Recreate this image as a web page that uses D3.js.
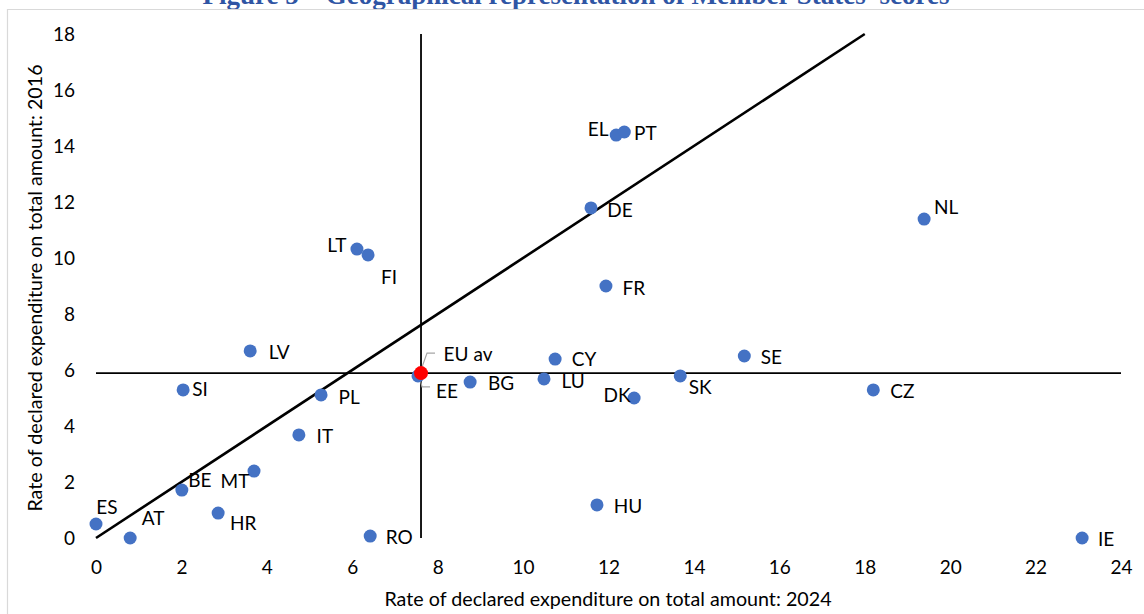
<!DOCTYPE html>
<html>
<head>
<meta charset="utf-8">
<script src="https://cdn.jsdelivr.net/npm/d3@7"></script>
<style>
  html, body { margin: 0; padding: 0; background: #fff; }
  svg { display: block; }
  text { font-family: Lato, "Open Sans", sans-serif; }
</style>
</head>
<body>
<svg id="chart" width="1144" height="614"></svg>
<script>
// Member State codes and their rates (x: 2024, y: 2016)
const countries = ["ES","AT","BE","MT","HR","RO","SI","LV","PL","IT","LT","FI","EE",
  "BG","CY","LU","EL","PT","DE","FR","HU","DK","SK","SE","CZ","NL","IE"];
const rate2024 = [0.0, 0.8, 2.01, 3.7, 2.86, 6.42, 2.04, 3.61, 5.27, 4.75, 6.11, 6.37, 7.54,
  8.76, 10.75, 10.49, 12.18, 12.37, 11.59, 11.94, 11.73, 12.6, 13.68, 15.18, 18.2, 19.39, 23.09];
const rate2016 = [0.5, 0.0, 1.71, 2.39, 0.89, 0.07, 5.29, 6.68, 5.11, 3.68, 10.32, 10.11, 5.79,
  5.57, 6.39, 5.68, 14.39, 14.5, 11.79, 9.0, 1.18, 5.0, 5.79, 6.5, 5.29, 11.39, 0.0];

// EU average
const euLabel = "EU av";
const euAvg2024 = 7.61;
const euAvg2016 = 5.89;

// Diagonal reference (equal rates in both years)
const diagonal = [[0, 0], [18, 18]];

const xTicks = [0, 2, 4, 6, 8, 10, 12, 14, 16, 18, 20, 22, 24];
const yTicks = [0, 2, 4, 6, 8, 10, 12, 14, 16, 18];

const titleText = "Figure 5 \u2013 Geographical representation of Member States\u2019 scores";
const xTitle = "Rate of declared expenditure on total amount: 2024";
const yTitle = "Rate of declared expenditure on total amount: 2016";

// label placement (centre offset from marker, px)
const labelOffsets = {
  ES:[11,-17], AT:[23,-20], BE:[18,-10], MT:[-19,10], HR:[25,10], RO:[29,1],
  SI:[17,-1], LV:[29,1], PL:[28,2], IT:[26,1], LT:[-20,-4], FI:[21,22],
  EE:[29,15], BG:[31,1], CY:[29,0], LU:[29,2], EL:[-18,-6], PT:[21,1],
  DE:[29,2], FR:[28,2], HU:[31,1], DK:[-17,-3], SK:[20,11], SE:[27,1],
  CZ:[29,1], NL:[22,-12], IE:[24,1]
};

const FONT = "19px";
const TITLE_FONT = "19.7px";

const svg = d3.select("#chart");
const W = 1144, H = 614;
const plot = { left: 96, right: 1121, top: 34, bottom: 538 };

const x = d3.scaleLinear().domain([0, 24]).range([plot.left, plot.right]);
const y = d3.scaleLinear().domain([0, 18]).range([plot.bottom, plot.top]);

// title (runs off the top of the page)
svg.append("text")
  .attr("x", 576).attr("y", 4)
  .attr("text-anchor", "middle")
  .style("font-family", "'Liberation Serif', 'Times New Roman', serif")
  .style("font-weight", "bold")
  .style("font-size", "27px")
  .attr("fill", "#2F55A4")
  .text(titleText);

// chart frame
svg.append("path")
  .attr("d", `M7.5,${H} V9.5 H${W}`)
  .attr("fill", "none")
  .attr("stroke", "#d9d9d9")
  .attr("stroke-width", 1.2);

// axes (labels only)
const xAxis = d3.axisBottom(x).tickValues(xTicks).tickSize(0).tickPadding(0);
const gx = svg.append("g").attr("transform", `translate(0,${plot.bottom})`).call(xAxis);
gx.select(".domain").remove();
gx.selectAll("text")
  .attr("y", 29).attr("dy", "0.35em")
  .style("font-size", FONT).style("font-family", "Lato, sans-serif").attr("fill", "#000");

const yAxis = d3.axisLeft(y).tickValues(yTicks).tickSize(0).tickPadding(0);
const gy = svg.append("g").attr("transform", `translate(${plot.left},0)`).call(yAxis);
gy.select(".domain").remove();
gy.selectAll("text")
  .attr("x", -21).attr("dy", "0.35em")
  .style("font-size", FONT).style("font-family", "Lato, sans-serif").attr("fill", "#000");

// axis titles
svg.append("text")
  .attr("x", 608).attr("y", 599).attr("dy", "0.35em")
  .attr("text-anchor", "middle")
  .style("font-size", TITLE_FONT).attr("fill", "#000")
  .text(xTitle);

svg.append("text")
  .attr("transform", `translate(35,288) rotate(-90)`)
  .attr("dy", "0.35em")
  .attr("text-anchor", "middle")
  .style("font-size", TITLE_FONT).attr("fill", "#000")
  .text(yTitle);

// EU average cross-hairs
svg.append("line")
  .attr("x1", x(euAvg2024)).attr("x2", x(euAvg2024))
  .attr("y1", y(18)).attr("y2", y(0))
  .attr("stroke", "#000").attr("stroke-width", 1.8);
svg.append("line")
  .attr("x1", x(0)).attr("x2", x(24))
  .attr("y1", y(euAvg2016)).attr("y2", y(euAvg2016))
  .attr("stroke", "#000").attr("stroke-width", 1.8);

// diagonal
svg.append("path")
  .attr("d", d3.line().x(d => x(d[0])).y(d => y(d[1]))(diagonal))
  .attr("fill", "none")
  .attr("stroke", "#000").attr("stroke-width", 2.6);

const data = countries.map((c, i) => ({ code: c, x: rate2024[i], y: rate2016[i] }));

// leader lines for EE and the EU average
const ee = data.find(d => d.code === "EE");
const lead = d3.line();
svg.append("path")
  .attr("d", lead([[x(euAvg2024) + 1, y(euAvg2016) - 6], [x(euAvg2024) + 6, y(euAvg2016) - 20], [x(euAvg2024) + 14, y(euAvg2016) - 20]]))
  .attr("fill", "none").attr("stroke", "#a6a6a6").attr("stroke-width", 1.2);
svg.append("path")
  .attr("d", lead([[x(ee.x) + 2, y(ee.y) + 3], [x(ee.x) + 4, y(ee.y) + 11], [x(ee.x) + 12, y(ee.y) + 11]]))
  .attr("fill", "none").attr("stroke", "#a6a6a6").attr("stroke-width", 1.2);

// country markers
svg.append("g").selectAll("circle")
  .data(data).join("circle")
  .attr("cx", d => x(d.x)).attr("cy", d => y(d.y))
  .attr("r", 6.5)
  .attr("fill", "#4472C4");

// EU average marker
svg.append("circle")
  .attr("cx", x(euAvg2024)).attr("cy", y(euAvg2016))
  .attr("r", 7)
  .attr("fill", "#FF0000");

// country labels
svg.append("g").selectAll("text")
  .data(data).join("text")
  .attr("x", d => x(d.x) + labelOffsets[d.code][0])
  .attr("y", d => y(d.y) + labelOffsets[d.code][1])
  .attr("dy", "0.35em")
  .attr("text-anchor", "middle")
  .style("font-size", FONT).attr("fill", "#000")
  .text(d => d.code);

svg.append("text")
  .attr("x", x(euAvg2024) + 47).attr("y", y(euAvg2016) - 19)
  .attr("dy", "0.35em")
  .attr("text-anchor", "middle")
  .style("font-size", FONT).attr("fill", "#000")
  .text(euLabel);
</script>
</body>
</html>
